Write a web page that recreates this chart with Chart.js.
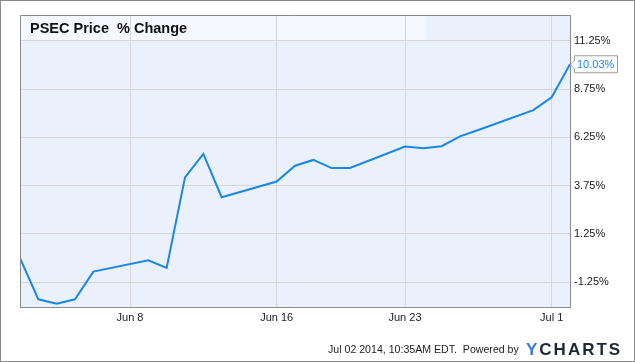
<!DOCTYPE html>
<html>
<head>
<meta charset="utf-8">
<script src="https://cdn.jsdelivr.net/npm/chart.js@4/dist/chart.umd.min.js"></script>
<style>
  html, body { margin: 0; padding: 0; background: #fff; }
  #wrap { width: 635px; height: 362px; }
</style>
</head>
<body>
<div id="wrap"><canvas id="myChart" width="635" height="362"></canvas></div>
<script>
// trading days and the % change
var dates = ['2014-06-02','2014-06-03','2014-06-04','2014-06-05','2014-06-06',
             '2014-06-09','2014-06-10','2014-06-11','2014-06-12','2014-06-13',
             '2014-06-16','2014-06-17','2014-06-18','2014-06-19','2014-06-20',
             '2014-06-23','2014-06-24','2014-06-25','2014-06-26','2014-06-27',
             '2014-06-30','2014-07-01','2014-07-02'];
var pctChange = [0.00, -2.13, -2.36, -2.13, -0.70,
                 -0.11, -0.51, 4.18, 5.39, 3.15,
                 3.96, 4.78, 5.08, 4.66, 4.66,
                 5.77, 5.68, 5.79, 6.30, 6.63,
                 7.66, 8.32, 10.03];

var xTickDates = ['2014-06-08','2014-06-16','2014-06-23','2014-07-01'];
var xTickLabels = ['Jun 8','Jun 16','Jun 23','Jul 1'];
var yTicks = [-1.25, 1.25, 3.75, 6.25, 8.75, 11.25];

var seriesName = 'PSEC Price  % Change';
var stamp = 'Jul 02 2014, 10:35AM EDT.  Powered by';

// days since the first date, so a plain linear axis can be used
var start = Date.UTC(2014, 5, 2);
function dayOf(s) {
  var p = s.split('-');
  return (Date.UTC(+p[0], +p[1] - 1, +p[2]) - start) / 86400000;
}

var points = [];
for (let i = 0; i < dates.length; i++) {
  points.push({ x: dayOf(dates[i]), y: pctChange[i] });
}
var xTicks = xTickDates.map(dayOf);

var FONT = 'Arial, "Liberation Sans", sans-serif';

var decor = {
  id: 'decor',
  beforeDraw: function(chart) {
    var c = chart.ctx, a = chart.chartArea;
    c.save();
    c.fillStyle = '#eaf1fc';
    c.fillRect(a.left, a.top, a.right - a.left, a.bottom - a.top);
    // lighter band behind the title
    c.fillStyle = '#f5f8fe';
    c.fillRect(a.left, a.top, 406, 26);
    c.restore();
  },
  afterDatasetsDraw: function(chart) {
    var c = chart.ctx, a = chart.chartArea;
    c.save();
    // top and left edges of the plot
    c.strokeStyle = '#8a8a8a';
    c.lineWidth = 1;
    c.beginPath();
    c.moveTo(a.left + 0.5, a.bottom);
    c.lineTo(a.left + 0.5, a.top + 0.5);
    c.lineTo(a.right, a.top + 0.5);
    c.stroke();

    c.font = 'bold 14.5px ' + FONT;
    c.fillStyle = '#111';
    c.textBaseline = 'middle';
    c.fillText(seriesName, 30, 29);

    // last value flag
    var meta = chart.getDatasetMeta(0);
    var pt = meta.data[meta.data.length - 1];
    var px = pt.x, py = pt.y;
    c.fillStyle = '#fff';
    c.strokeStyle = '#9a9a9a';
    c.beginPath();
    c.moveTo(px + 0.5, py + 0.5);
    c.lineTo(px + 4.5, py - 3.5);
    c.lineTo(px + 4.5, py - 8.5);
    c.lineTo(px + 47.5, py - 8.5);
    c.lineTo(px + 47.5, py + 8.5);
    c.lineTo(px + 4.5, py + 8.5);
    c.lineTo(px + 4.5, py + 4.5);
    c.closePath();
    c.fill();
    c.stroke();
    c.font = '11px ' + FONT;
    c.fillStyle = '#1a87e6';
    c.textBaseline = 'middle';
    c.fillText(pctChange[pctChange.length - 1].toFixed(2) + '%', px + 7, py + 0.5);
    c.restore();
  },
  afterDraw: function(chart) {
    var c = chart.ctx;
    c.save();
    c.font = '10.6px ' + FONT;
    c.fillStyle = '#222';
    c.textBaseline = 'middle';
    c.fillText(stamp, 328, 350);

    c.font = 'bold 17px ' + FONT;
    c.letterSpacing = '2px';
    c.fillStyle = '#3b78e0';
    c.fillText('Y', 526, 350);
    c.fillStyle = '#1d2733';
    c.fillText('CHARTS', 526 + c.measureText('Y').width, 350);
    c.restore();

    c.save();
    c.strokeStyle = '#8a8a8a';
    c.lineWidth = 1;
    c.strokeRect(0.5, 0.5, chart.width - 1, chart.height - 1);
    c.restore();
  }
};

var ctx = document.getElementById('myChart').getContext('2d');
var myChart = new Chart(ctx, {
  type: 'line',
  data: {
    datasets: [{
      label: seriesName,
      data: points,
      borderColor: '#1a87e6',
      borderWidth: 2,
      pointRadius: 0,
      tension: 0,
      fill: false
    }]
  },
  options: {
    responsive: false,
    animation: false,
    layout: { padding: { left: 20, top: 15, right: 0, bottom: 0 } },
    plugins: { legend: { display: false }, tooltip: { enabled: false } },
    scales: {
      x: {
        type: 'linear',
        min: 0,
        max: 30,
        afterBuildTicks: function(s) { s.ticks = xTicks.map(function(v) { return { value: v }; }); },
        afterFit: function(s) { s.height = 55; },
        grid: { color: '#d6d6d6', drawTicks: false },
        border: { display: true, color: '#8a8a8a' },
        ticks: {
          padding: 4,
          color: '#222',
          font: { family: FONT, size: 11 },
          maxRotation: 0,
          autoSkip: false,
          callback: function(v) { return xTickLabels[xTicks.indexOf(v)]; }
        }
      },
      y: {
        position: 'right',
        min: -2.53,
        max: 12.58,
        afterBuildTicks: function(s) { s.ticks = yTicks.map(function(v) { return { value: v }; }); },
        afterFit: function(s) { s.width = 65; },
        grid: { color: '#d6d6d6', drawTicks: false },
        border: { display: true, color: '#8a8a8a' },
        ticks: {
          padding: 4,
          color: '#222',
          font: { family: FONT, size: 11 },
          autoSkip: false,
          callback: function(v) { return v.toFixed(2) + '%'; }
        }
      }
    }
  },
  plugins: [decor]
});
</script>
</body>
</html>
